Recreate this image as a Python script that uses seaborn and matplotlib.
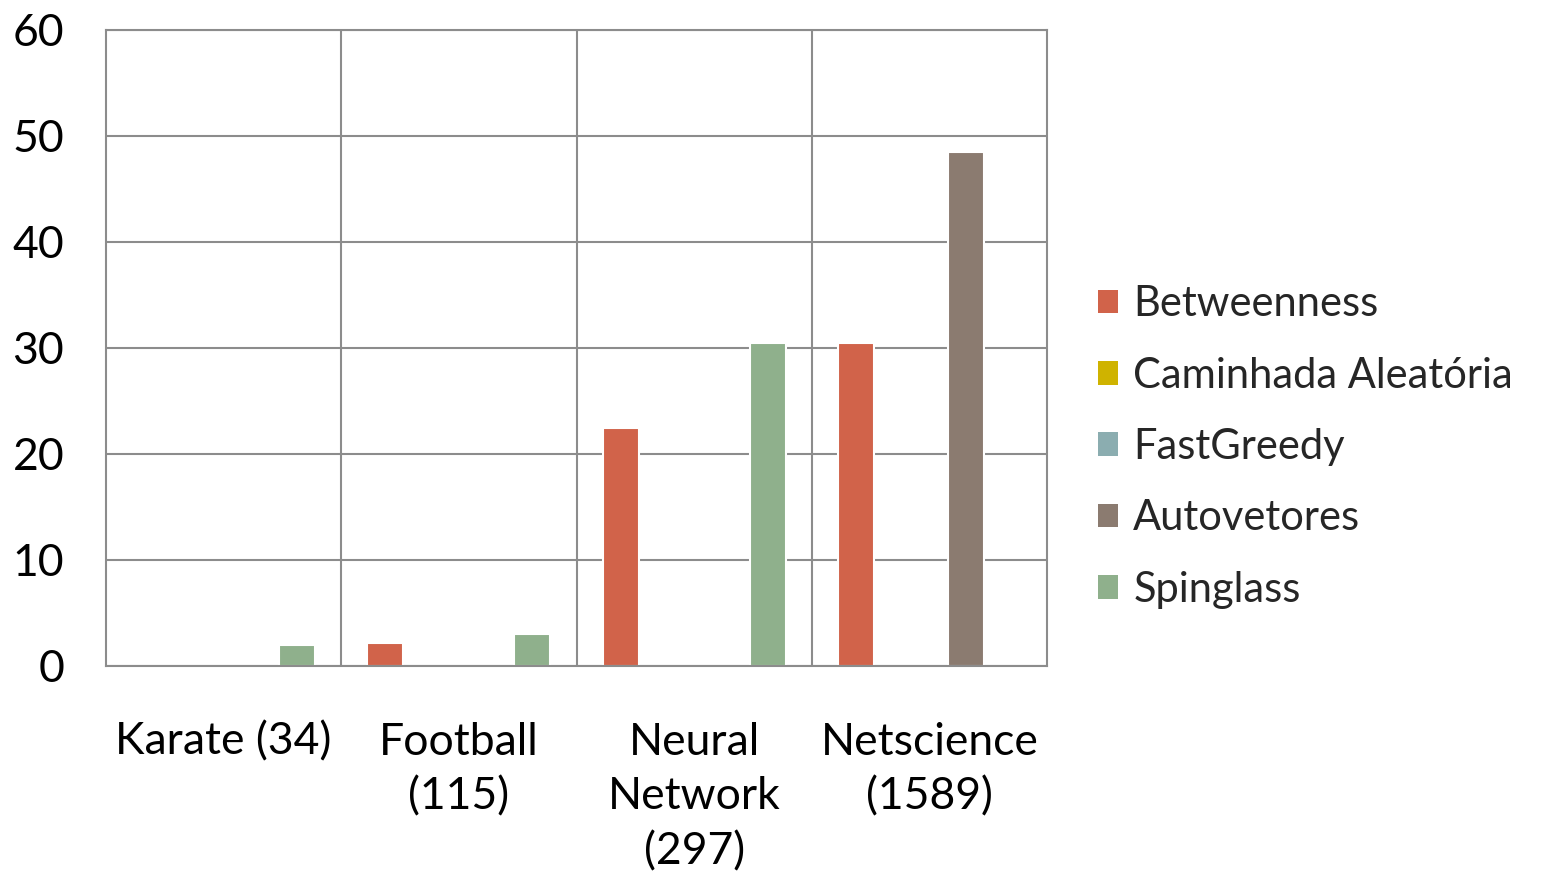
import matplotlib
matplotlib.use("Agg")
import matplotlib.pyplot as plt
from matplotlib.patches import Patch
import seaborn as sns
import pandas as pd

redes = ["Karate (34)", "Football\n(115)", "Neural\nNetwork\n(297)", "Netscience\n(1589)"]
metodos = ["Betweenness", "Caminhada Aleatória", "FastGreedy", "Autovetores", "Spinglass"]

betweenness = [0, 2.2, 22.5, 30.5]
caminhada = [0, 0, 0, 0]
fastgreedy = [0, 0, 0, 0]
autovetores = [0, 0, 0, 48.5]
spinglass = [2.0, 3.0, 30.5, 0]

cores = ["#D1634A", "#CFB300", "#8BADB0", "#8B7B70", "#8FB08C"]

series = [betweenness, caminhada, fastgreedy, autovetores, spinglass]
rows = []
for m, vals in zip(metodos, series):
    for r, v in zip(redes, vals):
        rows.append({"rede": r, "metodo": m, "valor": v})
df = pd.DataFrame(rows)

sns.set_theme(style="white")
plt.rcParams["font.family"] = ["Lato", "DejaVu Sans"]

fig = plt.figure(figsize=(15.54, 8.75), dpi=100)
ax = fig.add_axes([106 / 1554, 1 - 666 / 875, (1047 - 106) / 1554, (666 - 30) / 875])

sns.barplot(data=df, x="rede", y="valor", hue="metodo", order=redes, hue_order=metodos,
            palette=cores, saturation=1, width=0.78, gap=0.02, edgecolor="white",
            linewidth=1.5, legend=False, ax=ax)

grid_c = "#8c8c8c"
ax.set_xlim(-0.5, 3.5)
ax.set_ylim(0, 60)
ax.set_yticks(range(0, 61, 10))
ax.yaxis.grid(True, color=grid_c, lw=1.5)
ax.set_axisbelow(True)
for xv in [0.5, 1.5, 2.5]:
    ax.axvline(xv, color=grid_c, lw=1.5, zorder=0)
for s in ax.spines.values():
    s.set_visible(True)
    s.set_color(grid_c)
    s.set_linewidth(1.5)

ax.set_xlabel("")
ax.set_ylabel("")
ax.tick_params(axis="both", length=0, labelsize=32, colors="black")
ax.tick_params(axis="x", pad=40)
ax.tick_params(axis="y", pad=30)
for lab in ax.get_xticklabels():
    lab.set_linespacing(1.42)

handles = [Patch(facecolor=c, edgecolor="none") for c in cores]
fig.legend(handles, metodos, loc="center left", bbox_to_anchor=(1060 / 1554, 1 - 447 / 875),
           frameon=False, fontsize=30, handlelength=0.5, handleheight=0.5,
           handletextpad=0.36, labelspacing=0.8)

fig.savefig("out.png", dpi=100)
